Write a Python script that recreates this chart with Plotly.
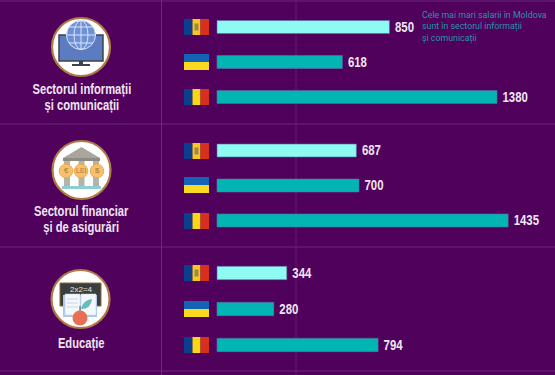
import plotly.graph_objects as go

W, H = 555, 375
BG = "#4F015C"
LINE = "#6B2A78"
LINE2 = "#6A1A6C"
MD_C = "#8EFBF3"
OTHER_C = "#00B5B3"
TEXT = "#F0E6F2"
COND = "'Liberation Sans', Arial"

countries = ["Moldova", "Ucraina", "România"]
sectors = ["Sectorul informații<br>și comunicații", "Sectorul financiar<br>și de asigurări", "Educație"]
it_values = [850, 618, 1380]
finance_values = [687, 700, 1435]
education_values = [344, 280, 794]
note = "Cele mai mari salarii în Moldova<br>sunt în sectorul informații<br>și comunicații"

panels = [it_values, finance_values, education_values]
px_per_unit = 280 / 1380
x0_px = 217
x_range = [-x0_px / px_per_unit, (W - x0_px) / px_per_unit]
panel_tops = [9.5, 133, 255]
panel_bottoms = [114.5, 238, 363]

fig = go.Figure()
for i, vals in enumerate(panels):
    sfx = "" if i == 0 else str(i + 1)
    fig.add_trace(go.Bar(
        y=countries, x=vals, orientation="h", width=0.37,
        marker=dict(color=[MD_C, OTHER_C, OTHER_C], line=dict(width=0.6, color="#5E6FA0")),
        text=[f"<b>{v}</b>" for v in vals], textposition="outside", cliponaxis=False,
        constraintext="none", textangle=0,
        textfont=dict(family=COND, size=15, color=TEXT),
        xaxis="x" + sfx, yaxis="y" + sfx, showlegend=False, hoverinfo="skip",
    ))
    common_x = dict(range=x_range, domain=[0, 1], visible=False, anchor="y" + sfx)
    common_y = dict(
        type="category", categoryorder="array", categoryarray=countries[::-1],
        domain=[1 - panel_bottoms[i] / H, 1 - panel_tops[i] / H],
        visible=False, anchor="x" + sfx,
    )
    fig.update_layout({"xaxis" + sfx: common_x, "yaxis" + sfx: common_y})


def X(p):
    return p / W


def Y(p):
    return 1 - p / H


shapes = []


def rect(x0, y0, x1, y1, fill, line=None, lw=0, layer="above"):
    shapes.append(dict(type="rect", xref="paper", yref="paper", x0=X(x0), x1=X(x1), y0=Y(y0), y1=Y(y1),
                       fillcolor=fill, line=dict(color=line or fill, width=lw), layer=layer))


def circle(cx, cy, r, fill, line=None, lw=0):
    shapes.append(dict(type="circle", xref="paper", yref="paper", x0=X(cx - r), x1=X(cx + r), y0=Y(cy + r), y1=Y(cy - r),
                       fillcolor=fill, line=dict(color=line or fill, width=lw), layer="above"))


def seg(x0, y0, x1, y1, c, w=1, layer="above"):
    shapes.append(dict(type="line", xref="paper", yref="paper", x0=X(x0), x1=X(x1), y0=Y(y0), y1=Y(y1),
                       line=dict(color=c, width=w), layer=layer))


for y in [1, 124, 247, 371]:
    seg(0, y, W, y, LINE, 1, "below")
seg(161.5, 0, 161.5, H, LINE, 1, "below")
seg(296, 0, 296, H, LINE2, 1, "below")

row_centres = [[27, 62, 97], [151, 185, 221], [273, 309, 345]]
for rows in row_centres:
    my, uy, ry = rows
    # Moldova
    rect(184, my - 8, 192.5, my + 8, "#0A3F8F")
    rect(192.5, my - 8, 200.5, my + 8, "#F5C91E")
    rect(200.5, my - 8, 209, my + 8, "#D8301F")
    rect(194.5, my - 3.5, 198.5, my + 3.5, "#9A8A4A")
    # Ukraine
    rect(184, uy - 8, 209, uy, "#1463B5")
    rect(184, uy, 209, uy + 8, "#FAD921")
    # Romania
    rect(184, ry - 8, 192.5, ry + 8, "#0A3F8F")
    rect(192.5, ry - 8, 200.5, ry + 8, "#F9D616")
    rect(200.5, ry - 8, 209, ry + 8, "#D8301F")

# icon: computer
GL = "#DCE6F8"
circle(81, 47, 29, "white", "#B07A45", 2.2)
rect(59, 35, 103, 61, "#5B7CC0", "#3F434A", 1.5)
rect(79, 61, 83, 64, "#3F434A")
rect(72, 64, 90, 66, "#3F434A")
circle(81, 35, 14.5, "#6E90D6", GL, 1)
seg(66.5, 35, 95.5, 35, GL)
seg(81, 20.5, 81, 49.5, GL)
shapes.append(dict(type="circle", xref="paper", yref="paper", x0=X(74), x1=X(88), y0=Y(49.5), y1=Y(20.5),
                   line=dict(color=GL, width=1), layer="above"))
seg(69, 27, 93, 27, GL)
seg(69, 43, 93, 43, GL)

# icon: bank
circle(81.5, 170, 29, "white", "#B07A45", 2.2)
shapes.append(dict(type="path", xref="paper", yref="paper",
                   path=f"M {X(63)} {Y(158)} L {X(81.5)} {Y(147)} L {X(100)} {Y(158)} Z",
                   fillcolor="#A9A79C", line=dict(color="#A9A79C", width=0), layer="above"))
rect(63, 158, 100, 161, "#8E8C82")
for cx in [67, 81.5, 96]:
    rect(cx - 3, 161, cx + 3, 186, "#B5B3A8")
for cx in [66, 81, 97]:
    circle(cx, 171, 6.8, "#F8BF6E", "#EFA94E", 1)
rect(62, 186, 101, 189, "#8CCFD3")

# icon: education
circle(80.5, 299, 29, "white", "#B07A45", 2.2)
rect(60, 283, 101, 306, "#3A3F3D", "#8A6A3A", 1)
rect(63, 295, 97, 317, "#A9C8EE")
rect(65, 294, 80, 315, "#F4F7FB", "#C8D3E3", 0.5)
rect(81, 294, 96, 315, "#F4F7FB", "#C8D3E3", 0.5)
for ly in [299, 303, 307]:
    seg(67, ly, 78, ly, "#B9C6DA", 0.7)
shapes.append(dict(type="path", xref="paper", yref="paper",
                   path=f"M {X(81)} {Y(309)} Q {X(83)} {Y(300)} {X(92)} {Y(299)} Q {X(91)} {Y(309)} {X(81)} {Y(309)} Z",
                   fillcolor="#67BDB9", line=dict(color="#67BDB9", width=0), layer="above"))
seg(80, 306, 80, 312, "#555555", 1)
circle(80, 318, 7.5, "#E96F52")

annotations = [
    dict(x=X(81.5), y=Y(y), xref="paper", yref="paper", text=f"<b>{t}</b>", showarrow=False, align="center",
         font=dict(family=COND, size=14, color=TEXT), xanchor="center", yanchor="middle", name="cond")
    for t, y in zip(sectors, [97, 219, 343])
]
small = [("2x2=4", 81, 289, "#E8E8E0", 8), ("€", 66, 171, "#A87A30", 8), ("LEI", 81, 171, "#A87A30", 7),
         ("$", 97, 171, "#A87A30", 8)]
for t, x, y, c, s in small:
    annotations.append(dict(x=X(x), y=Y(y), xref="paper", yref="paper", text=t, showarrow=False,
                            font=dict(family=COND, size=s, color=c), xanchor="center", yanchor="middle"))
annotations.append(dict(x=X(419.5), y=Y(27), xref="paper", yref="paper", text=note, showarrow=False, align="left",
                        font=dict(family="Roboto", size=8.8, color="#2A93A8"), xanchor="left", yanchor="middle"))

fig.update_layout(
    width=W, height=H, margin=dict(l=0, r=0, t=0, b=0), autosize=False,
    paper_bgcolor=BG, plot_bgcolor=BG, shapes=shapes, annotations=annotations, barmode="overlay",
)
condense = """
document.body.style.margin='0';document.body.style.background='#4F015C';
function squeeze(el,s,anchor,dx,dy){
  var b=el.getBBox();
  var c=anchor==='left'?b.x:b.x+b.width/2;
  var old=el.getAttribute('transform')||'';
  el.setAttribute('transform','translate('+(dx||0)+','+(dy||0)+') '+old+' translate('+c+',0) scale('+s+',1) translate('+(-c)+',0)');
}
document.querySelectorAll('.bartext').forEach(function(e){squeeze(e,0.76,'left',2.5,-1);});
document.querySelectorAll('.annotation-text').forEach(function(e){
  if(e.textContent.indexOf('Sectorul')===0||e.textContent==='Educație'){
    var ls=e.querySelectorAll('tspan.line');
    if(ls.length===2){
      ls[0].setAttribute('y',parseFloat(ls[0].getAttribute('y'))+1.5);
      ls[1].setAttribute('y',parseFloat(ls[1].getAttribute('y'))-1.5);
    }
    squeeze(e,0.8,'center');
  }
});
"""
fig.write_html("out.html", config={"displayModeBar": False, "responsive": False}, post_script=condense)
